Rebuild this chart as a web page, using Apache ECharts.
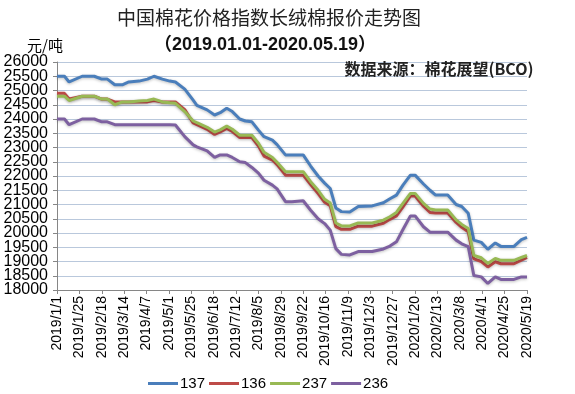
<!DOCTYPE html>
<html>
<head>
<meta charset="utf-8">
<script src="https://cdn.jsdelivr.net/npm/echarts/dist/echarts.min.js"></script>
<style>html,body{margin:0;padding:0;background:#fff}#c{width:575px;height:394px}</style>
</head>
<body>
<div id="c"></div>
<script>
const dates = ['2019-01-01','2019-01-09','2019-01-14','2019-01-28','2019-02-10','2019-02-18','2019-02-24','2019-03-04','2019-03-12','2019-03-19','2019-03-30','2019-04-08','2019-04-15','2019-04-24','2019-05-02','2019-05-08','2019-05-18','2019-05-27','2019-05-31','2019-06-11','2019-06-19','2019-06-25','2019-07-02','2019-07-08','2019-07-16','2019-07-22','2019-07-29','2019-08-05','2019-08-11','2019-08-20','2019-08-25','2019-09-03','2019-09-10','2019-09-22','2019-09-30','2019-10-08','2019-10-15','2019-10-21','2019-10-27','2019-11-02','2019-11-11','2019-11-20','2019-12-05','2019-12-17','2019-12-24','2019-12-31','2020-01-07','2020-01-15','2020-01-20','2020-01-29','2020-02-05','2020-02-11','2020-02-24','2020-03-04','2020-03-10','2020-03-17','2020-03-23','2020-03-31','2020-04-07','2020-04-15','2020-04-21','2020-05-05','2020-05-13','2020-05-19'];

const s137 = [25500,25500,25300,25500,25500,25400,25400,25200,25200,25300,25330,25400,25500,25400,25330,25300,25050,24660,24480,24320,24140,24220,24380,24260,24000,23930,23900,23610,23380,23260,23100,22740,22740,22740,22350,22000,21750,21560,20880,20750,20740,20930,20950,21060,21200,21330,21680,22030,22030,21720,21500,21330,21330,21000,20930,20690,19750,19670,19430,19650,19530,19530,19770,19850];
const s136 = [24900,24900,24700,24800,24800,24700,24700,24600,24600,24600,24600,24600,24650,24600,24600,24600,24330,23860,23800,23640,23460,23550,23670,23560,23350,23350,23350,23050,22700,22560,22400,22030,22030,22030,21700,21380,21080,20960,20220,20130,20130,20240,20240,20340,20480,20600,20920,21300,21300,20940,20720,20700,20700,20370,20200,20040,19090,19000,18810,18990,18920,18920,19050,19140];
const s237 = [24800,24800,24650,24800,24800,24700,24700,24500,24600,24600,24630,24650,24700,24600,24570,24550,24260,23930,23870,23710,23540,23620,23750,23640,23430,23430,23430,23150,22830,22650,22480,22150,22150,22150,21800,21500,21180,21050,20350,20250,20250,20350,20350,20450,20570,20720,21040,21390,21390,21040,20840,20810,20810,20460,20300,20160,19210,19130,18930,19110,19040,19040,19140,19210];
const s236 = [24000,24000,23800,24000,24000,23900,23900,23800,23800,23800,23800,23800,23800,23800,23800,23790,23380,23090,23020,22880,22650,22740,22740,22650,22500,22470,22300,22100,21850,21680,21550,21100,21100,21130,20800,20500,20330,20100,19450,19250,19230,19350,19350,19440,19540,19690,20120,20600,20600,20220,20030,20030,20030,19750,19620,19520,18510,18460,18230,18460,18370,18370,18460,18460];

const seriesNames = ['137','136','237','236'];
const seriesColors = ['#4A7EBB','#BE4B48','#98B954','#7D60A0'];
const startDate = '2019-01-01';
const endDate = '2020-05-19';
const labelStepDays = 24;
const yTicks = [18000,18500,19000,19500,20000,20500,21000,21500,22000,22500,23000,23500,24000,24500,25000,25500,26000];
const titleText = '中国棉花价格指数长绒棉报价走势图';
const subTitleText = '（2019.01.01-2020.05.19）';
const unitText = '元/吨';
const sourceText = '数据来源：棉花展望(BCO)';

function toUTC(s){const p=s.split('-').map(Number);return Date.UTC(p[0],p[1]-1,p[2]);}
const t0 = toUTC(startDate);
function dayIndex(s){return Math.round((toUTC(s)-t0)/86400000);}
function dayLabel(v){const d=new Date(t0+v*86400000);return d.getUTCFullYear()+'/'+(d.getUTCMonth()+1)+'/'+d.getUTCDate();}
const xMax = dayIndex(endDate);
const yMin = yTicks[0], yMax = yTicks[yTicks.length-1], yStep = yTicks[1]-yTicks[0];
const yEven = yTicks.filter((v,i)=>i%2===0);
const yOdd = yTicks.filter((v,i)=>i%2===1);

const allVals = [s137,s136,s237,s236];
const chart = echarts.init(document.getElementById('c'), null, {renderer:'canvas'});
const labelFont = 'Liberation Sans';
const yLabelBase = {margin:9,fontFamily:labelFont,fontSize:16,color:'#000',showMinLabel:true,showMaxLabel:true,hideOverlap:false,formatter:function(v){return String(v);}};
chart.setOption({
  animation:false,
  backgroundColor:'#fff',
  grid:{left:57,right:48,top:62,bottom:104},
  legend:{
    left:143, top:371,
    itemWidth:30, itemHeight:3, itemGap:4, icon:'rect',
    textStyle:{fontFamily:labelFont,fontSize:15,color:'#000',padding:[0,0,0,-3]},
    data:seriesNames
  },
  xAxis:{
    type:'value', min:0, max:xMax, interval:labelStepDays,
    axisLine:{lineStyle:{color:'#868686',width:1}},
    axisTick:{show:true,length:4,lineStyle:{color:'#868686'}},
    splitLine:{show:false},
    axisLabel:{rotate:90,margin:6,fontFamily:labelFont,fontSize:14,color:'#000',formatter:dayLabel,showMinLabel:true,showMaxLabel:true}
  },
  yAxis:[{
    type:'value', min:yMin, max:yMax, interval:yStep, position:'left',
    axisLine:{show:true,lineStyle:{color:'#868686',width:1}},
    axisTick:{show:true,length:4,lineStyle:{color:'#868686'}},
    splitLine:{lineStyle:{color:'#B9C8DC',width:1}},
    axisLabel:Object.assign({customValues:yEven},yLabelBase)
  },{
    type:'value', min:yMin, max:yMax, interval:yStep, position:'left', offset:0,
    axisLine:{show:false}, axisTick:{show:false}, splitLine:{show:false},
    axisLabel:Object.assign({customValues:yOdd},yLabelBase)
  }],
  graphic:[
    {type:'text',x:269,y:18,style:{text:titleText,fontFamily:'Noto Sans CJK SC',fontSize:19,fontWeight:'normal',fill:'#222',align:'center',verticalAlign:'middle'}},
    {type:'text',x:265,y:45,style:{text:subTitleText,fontFamily:'Liberation Sans, Noto Sans CJK SC',fontSize:18,fontWeight:'bold',fill:'#111',align:'center',verticalAlign:'middle'}},
    {type:'text',x:45,y:45,style:{text:unitText,fontFamily:'Noto Sans CJK SC',fontSize:15,fill:'#000',align:'center',verticalAlign:'middle'}},
    {type:'text',x:439,y:69,z:10,style:{text:sourceText,fontFamily:'Noto Sans CJK SC',fontSize:16,fontWeight:'bold',fill:'#222',align:'center',verticalAlign:'middle'}}
  ],
  series: seriesNames.map((n,k)=>({
    name:n, type:'line', yAxisIndex:0, showSymbol:false, symbol:'none', smooth:false,
    color:seriesColors[k],
    lineStyle:{width:3,color:seriesColors[k],shadowColor:'rgba(0,0,0,0.25)',shadowBlur:3,shadowOffsetY:1},
    data: dates.map((d,i)=>[dayIndex(d), allVals[k][i]])
  }))
});
</script>
</body>
</html>
